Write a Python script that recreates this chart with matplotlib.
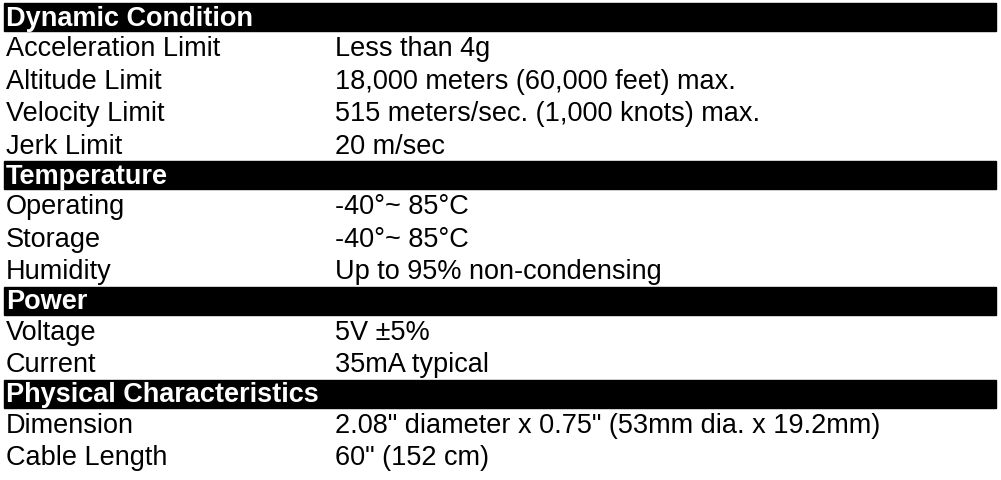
import matplotlib
matplotlib.use('Agg')
import matplotlib.pyplot as plt
from matplotlib.patches import Rectangle

plt.rcParams['font.family'] = ['Liberation Sans', 'DejaVu Sans']

sections = ['Dynamic Condition', 'Temperature', 'Power', 'Physical Characteristics']
labels = [
    ['Acceleration Limit', 'Altitude Limit', 'Velocity Limit', 'Jerk Limit'],
    ['Operating', 'Storage', 'Humidity'],
    ['Voltage', 'Current'],
    ['Dimension', 'Cable Length'],
]
values = [
    ['Less than 4g', '18,000 meters (60,000 feet) max.',
     '515 meters/sec. (1,000 knots) max.', '20 m/sec'],
    ['-40°~ 85°C', '-40°~ 85°C', 'Up to 95% non-condensing'],
    ['5V ±5%', '35mA typical'],
    ['2.08" diameter x 0.75" (53mm dia. x 19.2mm)', '60" (152 cm)'],
]

W, H = 1001, 481
fig = plt.figure(figsize=(W / 100, H / 100), dpi=100)
ax = fig.add_axes([0, 0, 1, 1])
ax.set_xlim(0, W)
ax.set_ylim(H, 0)
ax.axis('off')

left, right = 4, 996
head_h, row_h = 28, 32.5
fs = 19.5
y = 4
for sec, labs, vals in zip(sections, labels, values):
    ax.add_patch(Rectangle((left, y), right - left, head_h, color='black'))
    ax.text(left + 2, y + head_h / 2 + 1, sec, color='white', fontsize=fs,
            fontweight='bold', va='center', ha='left')
    y += head_h
    for lab, val in zip(labs, vals):
        ax.text(left + 2, y + row_h / 2 + 1, lab, fontsize=fs, va='center')
        ax.text(335, y + row_h / 2 + 1, val, fontsize=fs, va='center')
        y += row_h

fig.savefig('out.png', dpi=100)
